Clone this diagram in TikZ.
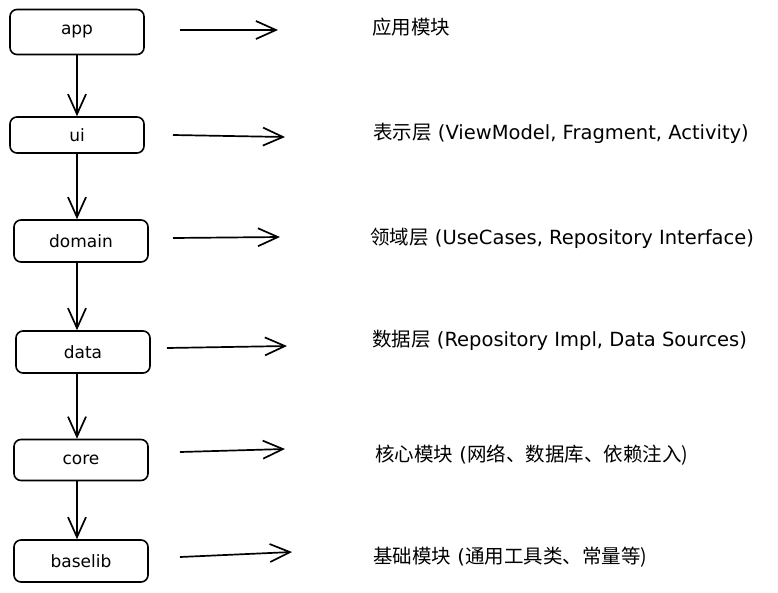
\documentclass[tikz,border=0pt]{standalone}
\usepackage{fontspec}
\setmainfont{DejaVu Sans}
\newfontfamily\cjk{Noto Sans CJK SC}
\usetikzlibrary{arrows.meta}

\tikzset{
  modbox/.style={draw, line width=1.6pt, rounded corners=7pt,
    minimum width=134pt, minimum height=42pt, inner sep=0pt,
    font=\fontsize{17}{20}\selectfont},
  dep/.style={line width=1.7pt, -{Straight Barb[length=20pt,width=18pt,line width=1.7pt]}},
  note/.style={anchor=west, inner sep=0pt, font=\fontsize{19.5}{22}\selectfont}
}

\begin{document}
\begin{tikzpicture}[x=1pt,y=-1pt]
  \useasboundingbox (0,0) rectangle (778,592);
  % Modules: name/x/y/height
  \foreach \n/\x/\y/\h in {
    app/77/32/45,
    ui/77/135/36,
    domain/81/241/42,
    data/83/352/42,
    core/81/460/41,
    baselib/81/561/42} {
    \node[modbox, minimum height=\h pt] (\n) at (\x,\y) {\n};
  }
  % dependency chain (straight down)
  \foreach \a/\b in {app/ui, ui/domain, domain/data, data/core, core/baselib}
    \draw[dep] (\a.south -| ui.center) -- (\b.north -| ui.center);
  % arrows to descriptions: name/x0/y0/x1/y1
  \foreach \n/\xa/\ya/\xb/\yb in {
    app/180/30/278/30,
    ui/173/135/285/137,
    domain/173/238/280/237,
    data/167/348/287/346,
    core/180/452/285/449,
    baselib/180/557/292/552} {
    \coordinate (s-\n) at (\xa,\ya);
    \coordinate (e-\n) at (\xb,\yb);
    \draw[dep] (s-\n) -- (e-\n);
  }
  % descriptions
  \node[note] (t-app) at (372,27) {\cjk 应用模块};
  \node[note] (t-ui) at (373,133) {{\cjk 表示层} (ViewModel, Fragment, Activity)};
  \node[note] (t-domain) at (370,238) {{\cjk 领域层} (UseCases, Repository Interface)};
  \node[note] (t-data) at (372,340) {{\cjk 数据层} (Repository Impl, Data Sources)};
  \node[note] (t-core) at (375,455) {{\cjk 核心模块} (\cjk 网络、数据库、依赖注入)};
  \node[note] (t-baselib) at (373,557) {{\cjk 基础模块} (\cjk 通用工具类、常量等)};
\end{tikzpicture}
\end{document}
